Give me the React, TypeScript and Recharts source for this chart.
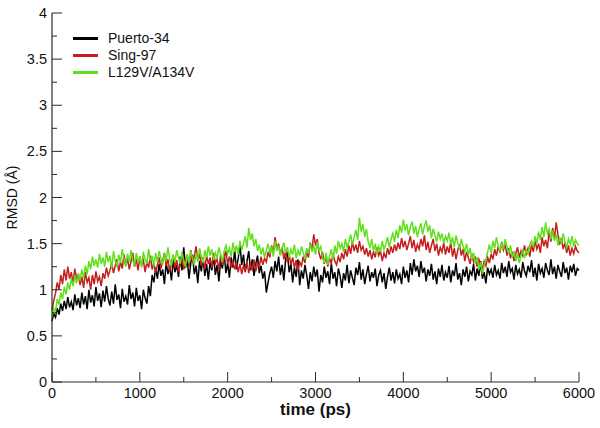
import React from 'react';
import { LineChart, Line, XAxis, YAxis, Legend } from 'recharts';

const FONT = '"Liberation Sans", Arial, Helvetica, sans-serif';
const TIME_STEP = 20; // ps between samples

const seriesNames = ['Puerto-34', 'Sing-97', 'L129V/A134V'];

// RMSD (Å), Puerto-34, sampled every 20 ps from 0 to 6000 ps
const puerto34 = [
  0.66, 0.74, 0.70, 0.80, 0.73, 0.85, 0.77, 0.88, 0.79, 0.92, 0.81, 0.87, 0.78, 0.95, 0.83,
  0.91, 0.80, 0.97, 0.84, 0.93, 0.79, 1.00, 0.86, 0.94, 0.82, 1.03, 0.88, 0.96, 0.81, 0.99,
  0.87, 1.04, 0.90, 0.83, 0.98, 0.85, 1.06, 0.89, 0.95, 0.80, 1.01, 0.87, 0.93, 0.84, 1.05,
  0.90, 0.97, 0.82, 1.02, 0.88, 0.94, 0.79, 1.00, 0.91, 0.85, 1.04, 0.93, 1.16, 1.08, 1.24,
  1.12, 1.28, 1.15, 1.22, 1.06, 1.30, 1.17, 1.25, 1.10, 1.33, 1.19, 1.27, 1.14, 1.36, 1.21,
  1.46, 1.24, 1.32, 1.12, 1.29, 1.38, 1.17, 1.26, 1.07, 1.31, 1.20, 1.35, 1.15, 1.28, 1.11,
  1.30, 1.21, 1.37, 1.16, 1.27, 1.09, 1.32, 1.23, 1.40, 1.18, 1.29, 1.13, 1.35, 1.24, 1.43,
  1.22, 1.34, 1.49, 1.27, 1.38, 1.19, 1.31, 1.42, 1.21, 1.33, 1.15, 1.28, 1.37, 1.18, 1.26,
  1.12, 1.20, 0.97, 1.08, 1.18, 1.25, 1.13, 1.31, 1.20, 1.36, 1.16, 1.27, 1.10, 1.33, 1.41,
  1.19, 1.28, 1.08, 1.24, 1.14, 1.33, 1.05, 1.21, 1.12, 1.27, 1.16, 1.01, 1.19, 1.09, 1.25,
  1.14, 1.22, 0.98, 1.16, 1.08, 1.25, 1.13, 1.20, 1.06, 1.29, 1.12, 1.19, 1.04, 1.23, 1.15,
  1.02, 1.18, 1.10, 1.27, 1.07, 1.21, 1.13, 1.05, 1.24, 1.16, 1.30, 1.11, 1.22, 1.06, 1.17,
  1.26, 1.09, 1.19, 1.13, 1.23, 1.04, 1.16, 1.21, 1.08, 1.18, 1.01, 1.14, 1.24, 1.10, 1.19,
  1.07, 1.22, 1.12, 1.17, 1.06, 1.25, 1.13, 1.21, 1.08, 1.29, 1.16, 1.33, 1.20, 1.26, 1.14,
  1.31, 1.18, 1.24, 1.09, 1.22, 1.15, 1.28, 1.11, 1.20, 1.06, 1.23, 1.14, 1.27, 1.10, 1.19,
  1.13, 1.26, 1.08, 1.21, 1.15, 1.29, 1.11, 1.18, 1.05, 1.22, 1.14, 1.25, 1.09, 1.20, 1.16,
  1.28, 1.10, 1.23, 1.15, 1.31, 1.12, 1.19, 1.07, 1.24, 1.17, 1.22, 1.13, 1.27, 1.16, 1.21,
  1.12, 1.29, 1.18, 1.25, 1.14, 1.31, 1.19, 1.23, 1.11, 1.27, 1.17, 1.22, 1.13, 1.30, 1.20,
  1.15, 1.26, 1.19, 1.32, 1.14, 1.24, 1.10, 1.28, 1.18, 1.23, 1.13, 1.29, 1.21, 1.16, 1.33,
  1.17, 1.25, 1.12, 1.27, 1.20, 1.14, 1.30, 1.18, 1.24, 1.11, 1.26, 1.19, 1.28, 1.15, 1.23,
  1.21,
];

// RMSD (Å), Sing-97
const sing97 = [
  0.78, 0.88, 0.96, 1.08, 1.00, 1.16, 1.06, 1.22, 1.10, 1.25, 1.12, 1.19, 1.07, 1.23, 1.11,
  1.17, 1.05, 1.14, 1.02, 1.19, 1.08, 1.13, 1.00, 1.16, 1.06, 1.20, 1.09, 1.14, 1.04, 1.18,
  1.12, 1.24, 1.15, 1.21, 1.29, 1.18, 1.26, 1.33, 1.20, 1.30, 1.23, 1.38, 1.26, 1.34, 1.22,
  1.31, 1.40, 1.25, 1.33, 1.21, 1.36, 1.27, 1.32, 1.19, 1.30, 1.24, 1.37, 1.22, 1.29, 1.18,
  1.27, 1.35, 1.23, 1.31, 1.40, 1.26, 1.33, 1.20, 1.29, 1.37, 1.24, 1.32, 1.19, 1.28, 1.34,
  1.22, 1.30, 1.38, 1.25, 1.43, 1.29, 1.36, 1.47, 1.31, 1.39, 1.26, 1.34, 1.22, 1.37, 1.28,
  1.35, 1.24, 1.40, 1.29, 1.33, 1.21, 1.38, 1.27, 1.34, 1.42, 1.28, 1.36, 1.24, 1.31, 1.22,
  1.30, 1.19, 1.28, 1.17, 1.26, 1.21, 1.31, 1.18, 1.27, 1.22, 1.33, 1.20, 1.29, 1.25, 1.36,
  1.27, 1.34, 1.30, 1.41, 1.35, 1.48, 1.40, 1.57, 1.44, 1.50, 1.38, 1.46, 1.33, 1.42, 1.30,
  1.38, 1.27, 1.35, 1.24, 1.32, 1.21, 1.30, 1.26, 1.36, 1.29, 1.42, 1.35, 1.51, 1.43, 1.60,
  1.48, 1.55, 1.40, 1.33, 1.41, 1.28, 1.37, 1.25, 1.34, 1.29, 1.39, 1.31, 1.27, 1.36, 1.30,
  1.40, 1.33, 1.44, 1.36, 1.48, 1.39, 1.52, 1.42, 1.49, 1.40, 1.53, 1.43, 1.47, 1.38, 1.45,
  1.36, 1.43, 1.33, 1.41, 1.35, 1.46, 1.37, 1.42, 1.31, 1.40, 1.34, 1.45, 1.38, 1.47, 1.40,
  1.49, 1.42, 1.51, 1.44, 1.56, 1.46, 1.53, 1.43, 1.50, 1.58, 1.45, 1.54, 1.41, 1.49, 1.44,
  1.55, 1.47, 1.59, 1.43, 1.52, 1.40, 1.48, 1.55, 1.42, 1.50, 1.37, 1.46, 1.41, 1.51, 1.38,
  1.47, 1.40, 1.52, 1.36, 1.45, 1.33, 1.43, 1.49, 1.37, 1.44, 1.31, 1.41, 1.35, 1.28, 1.39,
  1.30, 1.36, 1.25, 1.33, 1.27, 1.22, 1.31, 1.26, 1.35, 1.29, 1.39, 1.33, 1.44, 1.37, 1.47,
  1.40, 1.52, 1.43, 1.49, 1.37, 1.45, 1.34, 1.41, 1.31, 1.39, 1.46, 1.35, 1.42, 1.37, 1.48,
  1.39, 1.45, 1.36, 1.49, 1.41, 1.53, 1.44, 1.50, 1.40, 1.57, 1.47, 1.54, 1.45, 1.63, 1.52,
  1.67, 1.55, 1.73, 1.60, 1.49, 1.56, 1.44, 1.51, 1.40, 1.48, 1.37, 1.45, 1.39, 1.47, 1.42,
  1.40,
];

// RMSD (Å), L129V/A134V
const l129vA134v = [
  0.70, 0.80, 0.76, 0.90, 0.84, 0.97, 0.90, 1.03, 0.95, 1.08, 1.00, 1.12, 1.04, 1.15, 1.07,
  1.18, 1.10, 1.22, 1.13, 1.26, 1.17, 1.31, 1.22, 1.36, 1.26, 1.33, 1.24, 1.39, 1.28, 1.35,
  1.25, 1.41, 1.30, 1.37, 1.23, 1.42, 1.31, 1.26, 1.38, 1.29, 1.44, 1.33, 1.25, 1.39, 1.30,
  1.43, 1.32, 1.26, 1.40, 1.29, 1.36, 1.24, 1.41, 1.33, 1.28, 1.44, 1.31, 1.37, 1.25, 1.40,
  1.30, 1.42, 1.34, 1.27, 1.39, 1.31, 1.46, 1.33, 1.26, 1.38, 1.30, 1.43, 1.35, 1.28, 1.41,
  1.32, 1.25, 1.38, 1.29, 1.42, 1.34, 1.27, 1.40, 1.31, 1.45, 1.36, 1.29, 1.43, 1.35, 1.47,
  1.37, 1.44, 1.32, 1.40, 1.34, 1.46, 1.38, 1.30, 1.42, 1.48, 1.39, 1.45, 1.36, 1.51, 1.41,
  1.48, 1.38, 1.53, 1.43, 1.50, 1.58, 1.46, 1.67, 1.54, 1.61, 1.47, 1.55, 1.42, 1.49, 1.38,
  1.46, 1.35, 1.43, 1.50, 1.39, 1.47, 1.36, 1.53, 1.42, 1.48, 1.37, 1.45, 1.51, 1.40, 1.46,
  1.35, 1.44, 1.38, 1.49, 1.34, 1.43, 1.37, 1.47, 1.40, 1.33, 1.45, 1.39, 1.50, 1.41, 1.48,
  1.38, 1.52, 1.43, 1.47, 1.35, 1.29, 1.40, 1.27, 1.36, 1.44, 1.33, 1.48, 1.39, 1.53, 1.45,
  1.50, 1.41, 1.55, 1.46, 1.52, 1.60, 1.49, 1.57, 1.65, 1.54, 1.78, 1.63, 1.71, 1.57, 1.66,
  1.52, 1.46, 1.55, 1.42, 1.50, 1.39, 1.47, 1.41, 1.53, 1.44, 1.49, 1.57, 1.46, 1.55, 1.61,
  1.52, 1.65, 1.56, 1.70, 1.62, 1.76, 1.64, 1.71, 1.59, 1.68, 1.74, 1.61, 1.69, 1.57, 1.66,
  1.72, 1.60, 1.69, 1.75, 1.63, 1.70, 1.56, 1.66, 1.59, 1.52, 1.63, 1.55, 1.61, 1.50, 1.58,
  1.53, 1.62, 1.49, 1.57, 1.46, 1.59, 1.51, 1.44, 1.55, 1.47, 1.41, 1.50, 1.38, 1.45, 1.33,
  1.40, 1.28, 1.35, 1.22, 1.30, 1.17, 1.26, 1.33, 1.41, 1.49, 1.40, 1.53, 1.45, 1.57, 1.48,
  1.42, 1.51, 1.44, 1.55, 1.46, 1.39, 1.48, 1.35, 1.42, 1.31, 1.39, 1.29, 1.37, 1.43, 1.34,
  1.44, 1.38, 1.49, 1.53, 1.46, 1.58, 1.50, 1.63, 1.54, 1.68, 1.57, 1.73, 1.61, 1.66, 1.55,
  1.64, 1.53, 1.60, 1.48, 1.57, 1.50, 1.61, 1.52, 1.46, 1.55, 1.49, 1.58, 1.47, 1.54, 1.50,
  1.48,
];

const xTicks = [0, 500, 1000, 1500, 2000, 2500, 3000, 3500, 4000, 4500, 5000, 5500, 6000];
const yTicks = [0, 0.25, 0.5, 0.75, 1, 1.25, 1.5, 1.75, 2, 2.25, 2.5, 2.75, 3, 3.25, 3.5, 3.75, 4];
const xMajorEvery = 1000;
const yMajorEvery = 0.5;

const data = puerto34.map((v, i) => ({
  t: i * TIME_STEP,
  puerto: v,
  sing: sing97[i],
  mutant: l129vA134v[i],
}));

const AXIS = '#2a2a2a';
const MAJOR = 10;
const MINOR = 5;

const isMajorX = (v: number) => v % xMajorEvery === 0;
const isMajorY = (v: number) => Math.abs(v / yMajorEvery - Math.round(v / yMajorEvery)) < 1e-6;

const BottomTick = (props: any) => {
  const { x, y, payload } = props;
  const major = isMajorX(payload.value);
  return (
    <g>
      <line x1={x} x2={x} y1={y} y2={y - (major ? MAJOR : MINOR)} stroke={AXIS} strokeWidth={1} />
      {major && (
        <text x={x} y={y + 16} textAnchor="middle" fontSize={14.5} fontFamily={FONT} fill="#111">
          {payload.value}
        </text>
      )}
    </g>
  );
};

const TopTick = (props: any) => {
  const { x, y, payload } = props;
  const major = isMajorX(payload.value);
  return <line x1={x} x2={x} y1={y} y2={y + (major ? MAJOR : MINOR)} stroke={AXIS} strokeWidth={1} />;
};

const LeftTick = (props: any) => {
  const { x, y, payload } = props;
  const major = isMajorY(payload.value);
  return (
    <g>
      <line x1={x} x2={x + (major ? MAJOR : MINOR)} y1={y} y2={y} stroke={AXIS} strokeWidth={1} />
      {major && (
        <text x={x - 5} y={y + 5} textAnchor="end" fontSize={14.5} fontFamily={FONT} fill="#111">
          {payload.value}
        </text>
      )}
    </g>
  );
};

const RightTick = (props: any) => {
  const { x, y, payload } = props;
  const major = isMajorY(payload.value);
  return <line x1={x} x2={x - (major ? MAJOR : MINOR)} y1={y} y2={y} stroke={AXIS} strokeWidth={1} />;
};

const LegendContent = (props: any) => {
  const payload = [...(props.payload || [])].sort(
    (a: any, b: any) => seriesNames.indexOf(a.value) - seriesNames.indexOf(b.value)
  );
  return (
    <div style={{ fontFamily: FONT, fontSize: 14, color: '#111' }}>
      {payload.map((p: any) => (
        <div key={p.value} style={{ display: 'flex', alignItems: 'center', height: 17 }}>
          <svg width={38} height={17} style={{ display: 'block' }}>
            <line x1={3} x2={28} y1={8.5} y2={8.5} stroke={p.color} strokeWidth={3} />
          </svg>
          <span style={{ lineHeight: '17px' }}>{p.value}</span>
        </div>
      ))}
    </div>
  );
};

export default function App() {
  return (
    <div style={{ position: 'absolute', left: 0, top: 0, width: 600, height: 428, background: '#fff' }}>
      <LineChart width={600} height={428} data={data} margin={{ top: 13, right: 21, bottom: 0, left: 0 }}>
        <XAxis
          dataKey="t"
          type="number"
          domain={[0, 6000]}
          ticks={xTicks}
          interval={0}
          tick={<BottomTick />}
          tickLine={false}
          tickSize={0}
          tickMargin={0}
          axisLine={{ stroke: AXIS, strokeWidth: 1.2 }}
          height={46}
          label={{ value: 'time (ps)', position: 'insideBottom', offset: 13, fontSize: 17, fontWeight: 'bold', fontFamily: FONT, fill: '#111' }}
        />
        <XAxis
          xAxisId="top"
          orientation="top"
          type="number"
          domain={[0, 6000]}
          ticks={xTicks}
          interval={0}
          tick={<TopTick />}
          tickLine={false}
          tickSize={0}
          tickMargin={0}
          axisLine={{ stroke: AXIS, strokeWidth: 1.2 }}
          height={0}
        />
        <YAxis
          type="number"
          domain={[0, 4]}
          ticks={yTicks}
          interval={0}
          tick={<LeftTick />}
          tickLine={false}
          tickSize={0}
          tickMargin={0}
          axisLine={{ stroke: AXIS, strokeWidth: 1.2 }}
          width={52}
          label={{ value: 'RMSD (Å)', angle: -90, position: 'insideLeft', offset: 12, fontSize: 14, fontFamily: FONT, fill: '#111', style: { textAnchor: 'middle' } }}
        />
        <YAxis
          yAxisId="right"
          orientation="right"
          type="number"
          domain={[0, 4]}
          ticks={yTicks}
          interval={0}
          tick={<RightTick />}
          tickLine={false}
          tickSize={0}
          tickMargin={0}
          axisLine={{ stroke: AXIS, strokeWidth: 1.2 }}
          width={0}
        />
        <Legend
          layout="vertical"
          align="center"
          verticalAlign="middle"
          content={<LegendContent />}
          wrapperStyle={{ left: 70, top: 30, width: 200, height: 60 }}
        />
        <Line name="Puerto-34" dataKey="puerto" stroke="#000000" strokeWidth={1.5} dot={false} isAnimationActive={false} />
        <Line name="Sing-97" dataKey="sing" stroke="#c41e1e" strokeWidth={1.5} dot={false} isAnimationActive={false} />
        <Line name="L129V/A134V" dataKey="mutant" stroke="#5fe01a" strokeWidth={1.5} dot={false} isAnimationActive={false} />
      </LineChart>
    </div>
  );
}
